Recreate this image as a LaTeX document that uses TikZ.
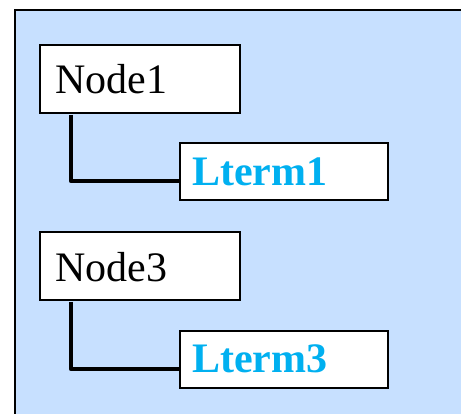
\documentclass[tikz,border=0pt]{standalone}
\usepackage{fontspec}
\setmainfont{Liberation Serif}
\usetikzlibrary{calc}
\definecolor{panelblue}{RGB}{199,224,255}
\definecolor{termblue}{RGB}{0,176,240}
\tikzset{
  box/.style={draw=black, line width=2pt, fill=white, rectangle, inner sep=0pt},
  nodebox/.style={box, minimum width=200pt, minimum height=68pt},
  termbox/.style={box, minimum width=208pt, minimum height=57pt},
  nodetext/.style={anchor=base west, inner sep=0pt, font=\fontsize{42}{42}\selectfont},
  termtext/.style={anchor=base west, inner sep=0pt, text=termblue, font=\fontsize{42}{42}\selectfont\bfseries},
  link/.style={line width=4.5pt, line join=round}
}
\begin{document}
\begin{tikzpicture}[x=1pt, y=-1pt]
  \useasboundingbox (0,0) rectangle (461,414);
  % panel: filled area with a frame on its top and left sides
  \fill[panelblue] (15,10) rectangle (461,414);
  \draw[line width=2pt] (15,414) -- (15,10) -- (461,10);

  % hierarchy boxes
  \node[nodebox, anchor=north west] (n1) at (39,44) {};
  \node[termbox, anchor=north west] (l1) at (179,142) {};
  \node[nodebox, anchor=north west] (n3) at (39,231) {};
  \node[termbox, anchor=north west] (l3) at (179,330) {};

  % labels
  \node[nodetext] (n1t) at (55,94) {Node1};
  \node[termtext] (l1t) at (192,186) {Lterm1};
  \node[nodetext] (n3t) at (55,282) {Node3};
  \node[termtext] (l3t) at (192,373) {Lterm3};

  % connectors from each node down and across to its term
  \coordinate (c1) at ($(n1.south west)+(32,0)$);
  \coordinate (e1) at ($(l1.west)+(0,9.5)$);
  \coordinate (c3) at ($(n3.south west)+(32,0)$);
  \coordinate (e3) at ($(l3.west)+(0,9.5)$);
  \draw[link] ($(c1)+(0,1)$) |- (e1);
  \draw[link] ($(c3)+(0,1)$) |- (e3);
\end{tikzpicture}
\end{document}
